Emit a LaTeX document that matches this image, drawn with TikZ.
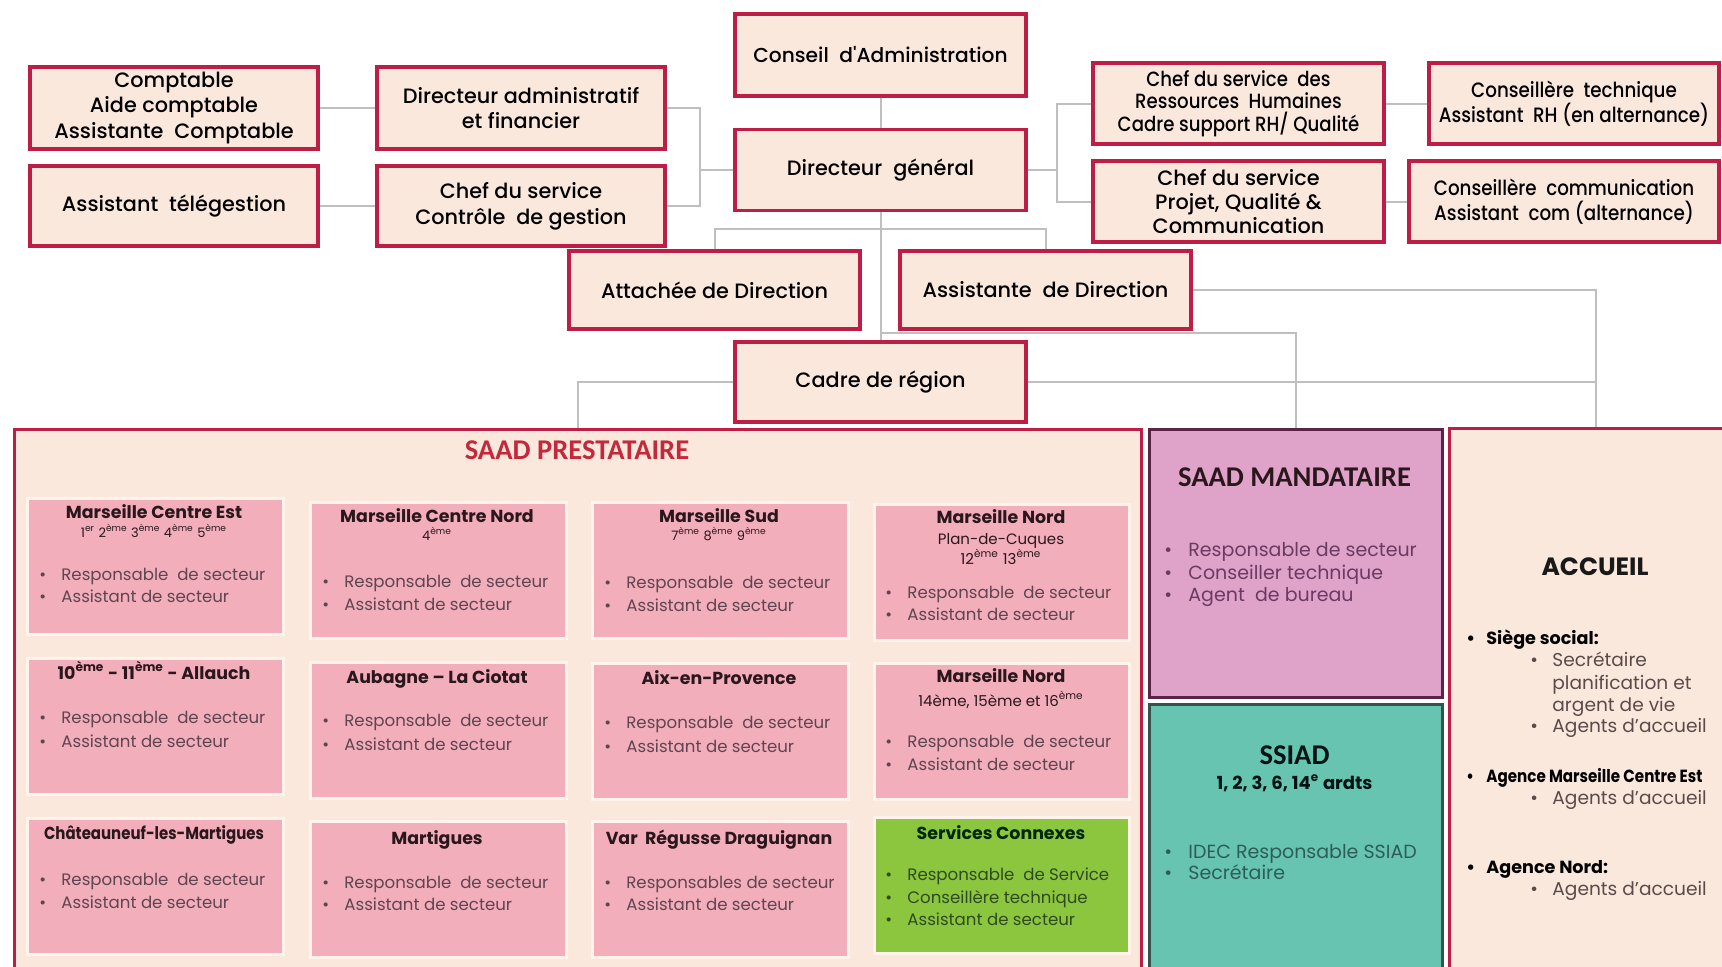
\documentclass[tikz,border=0pt]{standalone}
\usepackage{fontspec}
\setmainfont{Poppins}
\IfFontExistsTF{Poppins Medium}{%
  \newfontfamily\medfont{Poppins Medium}%
  \newfontfamily\medcond{Poppins Medium}[FakeStretch=0.88]}{%
  \newfontfamily\medfont{Poppins}%
  \newfontfamily\medcond{Poppins}[FakeStretch=0.88]}
\newfontfamily\condfont{Poppins}[FakeStretch=0.86]
\newfontfamily\titlefont{Carlito}
\definecolor{crim}{HTML}{BE1E45}
\definecolor{cream}{HTML}{FBE8DD}
\definecolor{connc}{HTML}{BFBFBF}
\definecolor{pinkbox}{HTML}{F2AEBB}
\definecolor{pinkedge}{HTML}{FFF3EC}
\definecolor{greenbox}{HTML}{8CC63F}
\definecolor{mandfill}{HTML}{DFA2C9}
\definecolor{mandedge}{HTML}{5B2447}
\definecolor{ssiadfill}{HTML}{66C4B1}
\definecolor{ssiadedge}{HTML}{35524B}
\definecolor{titred}{HTML}{C4283A}
\definecolor{hdr}{HTML}{2A171C}
\definecolor{bultext}{HTML}{5E4550}
\definecolor{greentext}{HTML}{2E4A1E}
\definecolor{mandtext}{HTML}{6B3A63}
\definecolor{ssiadtext}{HTML}{2D5E56}
\definecolor{acctext}{HTML}{5A4A4A}
\newcommand{\bu}{\makebox[11pt][l]{\textbullet}}
\newcommand{\bua}{\makebox[10pt][l]{\textbullet}}
\newcommand{\bum}{\makebox[12pt][l]{\textbullet}}
\newcommand{\eme}{\textsuperscript{ème}}
\begin{document}
\begin{tikzpicture}[x=0.5pt,y=-0.5pt,
  topbox/.style={draw=crim, line width=1.6pt, fill=cream, align=center, inner sep=0pt,
    minimum width=145.5pt, minimum height=40.5pt,
    font=\medfont\fontsize{10.4}{12.8}\selectfont, text=black},
  panel/.style={draw=crim, line width=1.6pt, fill=cream, anchor=north west, inner sep=0pt},
  conn/.style={draw=connc, line width=1pt},
  ibox/.style={draw=pinkedge, line width=1.5pt, fill=pinkbox, anchor=north west, inner sep=0pt,
    minimum width=128pt, minimum height=68pt},
  gbox/.style={ibox, fill=greenbox},
  ihead/.style={font=\bfseries\fontsize{8.7}{10}\selectfont, text=hdr, anchor=base, inner sep=0pt},
  isub/.style={font=\fontsize{6.5}{7.5}\selectfont, text=hdr, anchor=base, inner sep=0pt},
  ibul/.style={font=\fontsize{8.3}{10}\selectfont, text=bultext, anchor=base west, inner sep=0pt},
  gbul/.style={ibul, text=greentext},
  mbul/.style={font=\fontsize{9.5}{11}\selectfont, text=mandtext, anchor=base west, inner sep=0pt},
  sbul/.style={mbul, text=ssiadtext},
  bigtitle/.style={font=\titlefont\bfseries\fontsize{14.3}{16}\selectfont, inner sep=0pt},
  accb/.style={font=\bfseries\fontsize{8.8}{10}\selectfont, text=black, anchor=base west, inner sep=0pt},
  accs/.style={font=\fontsize{9.3}{11}\selectfont, text=acctext, anchor=base west, inner sep=0pt}
]
\clip (0,0) rectangle (1722,966);
\fill[white] (0,0) rectangle (1722,966);

% ---- top boxes
\node[topbox, minimum width=144pt, minimum height=41pt] (comp) at (174,108) {Comptable\\Aide comptable\\Assistante\ \ Comptable};
\node[topbox, minimum width=144pt, minimum height=41pt] (daf) at (521,108) {Directeur administratif\\et financier};
\node[topbox, minimum width=144pt, minimum height=40pt] (tele) at (174,206) {Assistant\ \ télégestion};
\node[topbox, minimum width=144pt, minimum height=40pt] (ccg) at (521,206) {Chef du service\\Contrôle\ \ de gestion};
\node[topbox, minimum height=41pt, font=\medfont\fontsize{10.1}{12}\selectfont] (ca) at (880.5,55) {Conseil\ \ d'Administration};
\node[topbox] (dg) at (880.5,170) {Directeur\ \ général};
\node[topbox, font=\medcond\fontsize{10.3}{11.2}\selectfont] (rh) at (1238.5,103.5) {Chef du service\ \ des\\Ressources\ \ Humaines\\Cadre support RH/ Qualité};
\node[topbox, font=\medfont\fontsize{10.4}{12.2}\selectfont] (pqc) at (1238.5,201.5) {Chef du service\\Projet, Qualité \&\\Communication};
\node[topbox, minimum width=145pt, font=\medcond\fontsize{10.4}{12.5}\selectfont] (ct) at (1574,103.5) {Conseillère\ \ technique\\Assistant\ \ RH (en alternance)};
\node[topbox, minimum width=155pt, font=\medcond\fontsize{10.4}{12.5}\selectfont] (cc) at (1564,201.5) {Conseillère\ \ communication\\Assistant\ \ com (alternance)};
\node[topbox, minimum height=39pt] (att) at (714.5,290) {Attachée de Direction};
\node[topbox, minimum height=39pt] (asd) at (1045.5,290) {Assistante\ \ de Direction};
\node[topbox, minimum height=40pt] (cadre) at (880.5,382) {Cadre de région};

% ---- panels
\node[panel, minimum width=563.5pt, minimum height=281pt] (prest) at (13,428) {};
\node[panel, draw=mandedge, fill=mandfill, minimum width=146.5pt, minimum height=134pt] (mand) at (1148,428) {};
\node[panel, draw=ssiadedge, fill=ssiadfill, minimum width=146.5pt, minimum height=143.5pt] (ssiad) at (1148,703) {};
\node[panel, minimum width=146pt, minimum height=281.5pt] (acc) at (1448,427) {};

% ---- connectors
\coordinate (bl) at (700,170);
\coordinate (br) at (1057,170);
\coordinate (jn) at (880,229);
\coordinate (jm) at (880,333);
\draw[conn] (ca) -- (dg);
\draw[conn] (dg.west) -- (bl);
\draw[conn] (daf.east) -| (bl) |- (ccg.east);
\draw[conn] (comp) -- (daf);
\draw[conn] (tele) -- (ccg);
\draw[conn] (dg.east) -- (br);
\draw[conn] (rh.west) -| (br) |- (pqc.west);
\draw[conn] (rh) -- (ct);
\draw[conn] (pqc) -- (cc);
\draw[conn] (dg) -- (cadre);
\draw[conn] (att.north) |- (jn) -| (asd.north);
\draw[conn] (jm) -| (mand.north);
\draw[conn] (asd.east) -| (acc.north);
\draw[conn] (cadre.west) -| (prest.north);
\draw[conn] (cadre.east) -- (cadre.east -| acc.north);

% ---- SAAD PRESTATAIRE
\node[bigtitle, text=titred] (prestT) at (577,450) {SAAD PRESTATAIRE};

\node[ibox] (b11) at (26,497) {};
\node[ihead] (b11h) at (154,518) {Marseille Centre Est};
\node[isub] (b11s) at (154,537) {1\textsuperscript{er} 2\eme{} 3\eme{} 4\eme{} 5\eme};
\node[ibul] (b11a) at (39,580.5) {\bu Responsable\ \ de secteur};
\node[ibul] (b11b) at (39,602.5) {\bu Assistant de secteur};

\node[ibox] (b12) at (309,501) {};
\node[ihead] (b12h) at (437,522) {Marseille Centre Nord};
\node[isub] (b12s) at (437,540) {4\eme};
\node[ibul] (b12a) at (322,587.5) {\bu Responsable\ \ de secteur};
\node[ibul] (b12b) at (322,610.5) {\bu Assistant de secteur};

\node[ibox] (b13) at (591,501) {};
\node[ihead] (b13h) at (719,522) {Marseille Sud};
\node[isub] (b13s) at (719,540) {7\eme{} 8\eme{} 9\eme};
\node[ibul] (b13a) at (604,588) {\bu Responsable\ \ de secteur};
\node[ibul] (b13b) at (604,611) {\bu Assistant de secteur};

\node[ibox, minimum width=127.5pt] (b14) at (873,503) {};
\node[ihead] (b14h) at (1001,523) {Marseille Nord};
\node[isub, font=\fontsize{7.5}{9}\selectfont] (b14s) at (1001,544) {Plan-de-Cuques};
\node[isub, font=\fontsize{7.5}{9}\selectfont] (b14t) at (1001,564) {12\eme{} 13\eme};
\node[ibul] (b14a) at (885,598.5) {\bu Responsable\ \ de secteur};
\node[ibul] (b14b) at (885,620.5) {\bu Assistant de secteur};

\node[ibox] (b21) at (26,657) {};
\node[ihead] (b21h) at (154,679) {10\eme{} - 11\eme{} - Allauch};
\node[ibul] (b21a) at (39,723.5) {\bu Responsable\ \ de secteur};
\node[ibul] (b21b) at (39,747.5) {\bu Assistant de secteur};

\node[ibox] (b22) at (309,661) {};
\node[ihead] (b22h) at (437,683) {Aubagne – La Ciotat};
\node[ibul] (b22a) at (322,726.5) {\bu Responsable\ \ de secteur};
\node[ibul] (b22b) at (322,750.5) {\bu Assistant de secteur};

\node[ibox] (b23) at (591,662) {};
\node[ihead] (b23h) at (719,684) {Aix-en-Provence};
\node[ibul] (b23a) at (604,728.5) {\bu Responsable\ \ de secteur};
\node[ibul] (b23b) at (604,752.5) {\bu Assistant de secteur};

\node[ibox, minimum width=127.5pt] (b24) at (873,662) {};
\node[ihead] (b24h) at (1001,682) {Marseille Nord};
\node[isub, font=\fontsize{7.5}{9}\selectfont] (b24s) at (1001,706) {14ème, 15ème et 16\eme};
\node[ibul] (b24a) at (885,747.5) {\bu Responsable\ \ de secteur};
\node[ibul] (b24b) at (885,770.5) {\bu Assistant de secteur};

\node[ibox] (b31) at (26,817) {};
\node[ihead, font=\condfont\bfseries\fontsize{8.7}{10}\selectfont] (b31h) at (154,839) {Châteauneuf-les-Martigues};
\node[ibul] (b31a) at (39,885.5) {\bu Responsable\ \ de secteur};
\node[ibul] (b31b) at (39,908.5) {\bu Assistant de secteur};

\node[ibox] (b32) at (309,820) {};
\node[ihead] (b32h) at (437,844) {Martigues};
\node[ibul] (b32a) at (322,888.5) {\bu Responsable\ \ de secteur};
\node[ibul] (b32b) at (322,910.5) {\bu Assistant de secteur};

\node[ibox] (b33) at (591,820) {};
\node[ihead] (b33h) at (719,844) {Var\ \ Régusse Draguignan};
\node[ibul] (b33a) at (604,888.5) {\bu Responsables de secteur};
\node[ibul] (b33b) at (604,910.5) {\bu Assistant de secteur};

\node[gbox, minimum width=127.5pt] (b34) at (873,816) {};
\node[ihead, text=black!85!green] (b34h) at (1001,839) {Services Connexes};
\node[gbul] (b34a) at (885,880.5) {\bu Responsable\ \ de Service};
\node[gbul] (b34b) at (885,903.5) {\bu Conseillère technique};
\node[gbul] (b34c) at (885,925.5) {\bu Assistant de secteur};

% ---- SAAD MANDATAIRE
\node[bigtitle, text=hdr] (mandT) at (1294.5,477) {SAAD MANDATAIRE};
\node[mbul] (m1) at (1164,556) {\bum Responsable de secteur};
\node[mbul] (m2) at (1164,579) {\bum Conseiller technique};
\node[mbul] (m3) at (1164,601) {\bum Agent\ \ de bureau};

% ---- SSIAD
\node[bigtitle, text=black!85!teal] (ssiadT) at (1294.5,755) {SSIAD};
\node[font=\bfseries\fontsize{9}{10}\selectfont, text=black!85!teal, inner sep=0pt] (ssiadS) at (1294.5,783) {1, 2, 3, 6, 14\textsuperscript{e} ardts};
\node[sbul] (s1) at (1164,858) {\bum IDEC Responsable SSIAD};
\node[sbul] (s2) at (1164,879) {\bum Secrétaire};

% ---- ACCUEIL
\node[font=\bfseries\fontsize{12.5}{14}\selectfont, text=black!90, inner sep=0pt] (accT) at (1595,567) {ACCUEIL};
\node[accb] (a1) at (1466,644) {\bua Siège social:};
\node[accs] (a2) at (1530,666) {\bu Secrétaire};
\node[accs] (a3) at (1552,689) {planification et};
\node[accs] (a4) at (1552,711) {argent de vie};
\node[accs] (a5) at (1530,732) {\bu Agents d'accueil};
\node[accb, font=\condfont\bfseries\fontsize{8.8}{10}\selectfont] (a6) at (1466,782) {\bua Agence Marseille Centre Est};
\node[accs] (a7) at (1530,804) {\bu Agents d'accueil};
\node[accb] (a8) at (1466,873) {\bua Agence Nord:};
\node[accs] (a9) at (1530,895) {\bu Agents d'accueil};
\end{tikzpicture}
\end{document}
